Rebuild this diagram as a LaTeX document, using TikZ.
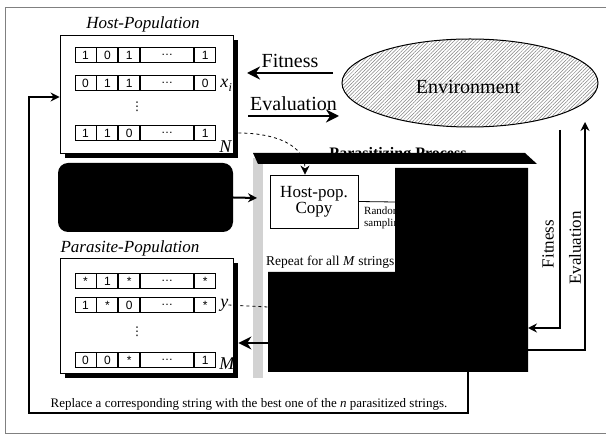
\documentclass[tikz,border=0pt]{standalone}
\usepackage{fontspec}
\setmainfont{Liberation Serif}
\newfontfamily\cellfont{Liberation Sans}
\newfontfamily\symfont{DejaVu Sans}
\usetikzlibrary{positioning,shadows,patterns.meta,arrows.meta,shapes.geometric}

\begin{document}
\begin{tikzpicture}[x=1pt,y=-1pt,>={Stealth[length=9pt,width=9pt]},
  popbox/.style={draw,line width=0.8pt,fill=white,minimum width=173pt,
    drop shadow={shadow xshift=5pt,shadow yshift=-5pt,fill=black,opacity=1}},
  cell/.style={draw,line width=0.9pt,minimum width=21pt,minimum height=15pt,inner sep=0pt,
    font=\cellfont\fontsize{12}{12}\selectfont},
  poptitle/.style={font=\fontsize{17}{17}\selectfont\itshape},
  bigtext/.style={font=\fontsize{20}{22}\selectfont},
  vtext/.style={font=\fontsize{17}{17}\selectfont,rotate=90},
  strlabel/.style={font=\fontsize{18}{18}\selectfont\itshape,inner sep=0pt},
  vdot/.style={font=\symfont\fontsize{12}{12}\selectfont,inner sep=0pt},
  bigarrow/.style={line width=2.5pt,-{Stealth[length=13pt,width=13pt]}},
  flow/.style={line width=2pt}]
\useasboundingbox (0,0) rectangle (608,435);
\draw[gray,line width=0.6pt] (606,7) -- (5,7) -- (5,433) -- (606,433);

% replace path behind everything
\coordinate (r1) at (468,370);
\coordinate (r2) at (29,413);
\node[font=\fontsize{13}{13}\selectfont] (reptext) at (249,404) {Replace a corresponding string with the best one of the \textit{n} parasitized strings.};

% host population
\node[popbox,minimum height=118pt] (host) at (146.5,94) {};
\node[poptitle] (hosttitle) at (143,24) {Host-Population};
\foreach \r/\y/\a/\b/\c/\z in {1/55/1/0/1/1,2/83/0/1/1/0,4/133/1/1/0/1}{
  \node[cell] (h\r-a) at (85.5,\y) {\a};
  \node[cell,right=0pt of h\r-a] (h\r-b) {\b};
  \node[cell,right=0pt of h\r-b] (h\r-c) {\c};
  \node[cell,minimum width=53pt,right=0pt of h\r-c] (h\r-d) {\ldots};
  \node[cell,right=0pt of h\r-d] (h\r-e) {\z};
}
\node[vdot] (hdots) at (137,107) {⋮};
\node[strlabel,anchor=west] (xi) at ([xshift=4pt,yshift=-2pt]h2-e.east) {x\kern.5pt\raisebox{-4pt}{\fontsize{12}{12}\selectfont i}};
\node[strlabel,anchor=west] (nlab) at ([xshift=3pt,yshift=-14pt]h4-e.east) {N};

% parasite population
\node[popbox,minimum height=115pt] (para) at (146.5,315.5) {};
\node[poptitle] (paratitle) at (130,248) {Parasite-Population};
\foreach \r/\y/\a/\b/\c/\z in {1/281/*/1/*/*,2/305/1/*/0/*,4/360/0/0/*/1}{
  \node[cell] (p\r-a) at (85.5,\y) {\a};
  \node[cell,right=0pt of p\r-a] (p\r-b) {\b};
  \node[cell,right=0pt of p\r-b] (p\r-c) {\c};
  \node[cell,minimum width=53pt,right=0pt of p\r-c] (p\r-d) {\ldots};
  \node[cell,right=0pt of p\r-d] (p\r-e) {\z};
}
\node[vdot] (pdots) at (137,332) {⋮};
\node[strlabel,anchor=west] (ylab) at ([xshift=4pt]p2-e.east) {y};
\node[strlabel,anchor=west] (mlab) at ([xshift=3pt,yshift=-4pt]p4-e.east) {M};

% environment
\node[ellipse,draw,line width=1pt,minimum width=256pt,minimum height=88pt,
  pattern={Lines[angle=45,distance=2.5pt,line width=0.5pt]},pattern color=gray] (env) at (470,83) {};
\node[bigtext] (envtext) at (468,87) {Environment};

\coordinate (f1) at (333,73);
\coordinate (f2) at (247,73);
\draw[bigarrow] (f1) -- (f2) node[midway,above=1pt,bigtext] (fit) {Fitness};
\coordinate (e1) at (248,116);
\coordinate (e2) at (339,116);
\draw[bigarrow] (e1) -- (e2) node[midway,above=1pt,bigtext] (eva) {Evaluation};

% parasitizing process
\node[fill=black,rounded corners=10pt,minimum width=175pt,minimum height=69pt] (blob) at (145.5,197.5) {};
\fill[gray!35] (253,158) rectangle (263,378);
\coordinate (stripin) at (257,198);
\draw[line width=2pt,->] (blob.east) -- (stripin);
\node[draw,fill=white,line width=0.8pt,minimum width=88pt,minimum height=53pt,align=center,
  font=\fontsize{17}{16}\selectfont] (copy) at (314,201.5) {Host-pop.\\Copy};
\draw[dashed,thick,->] ([xshift=5pt]host.east |- h4-e.east) .. controls (275,133) and (305,145) .. ([xshift=-9pt]copy.north);
\node[anchor=north west,align=left,inner sep=0pt,font=\fontsize{11}{12}\selectfont] (rand) at (364,207) {Random\\sampling};
\node[anchor=west,inner sep=0pt,font=\fontsize{13.5}{14}\selectfont] (repeat) at (266,262) {Repeat for all \textit{M} strings};
\coordinate (blk) at (395,202);
\draw[thick] (copy.east) -- (blk);
\draw[dashed,thick] (ylab.east) -- (268,307);
\draw[flow,->] (r1) |- (r2) |- ([yshift=-3pt]host.west);
\fill (395,168) -- (528,168) -- (528,372) -- (268,372) -- (268,272) -- (395,272) -- cycle;
\node[font=\fontsize{16}{16}\selectfont\bfseries] (pptitle) at (398,155) {Parasitizing Process};
\fill (253,153) -- (525,153) -- (537,164) -- (258,164) -- cycle;
\coordinate (back) at (268,343);
\draw[bigarrow] (back) -- ([xshift=5pt]para.east |- back);

% right side loop
\coordinate (fitTop) at (560,130);
\coordinate (fitEnd) at (528,328);
\draw[flow,->] (fitTop) |- (fitEnd);
\coordinate (evaStart) at (528,350);
\coordinate (evaTop) at (585,122);
\draw[flow,->] (evaStart) -| (evaTop);
\node[vtext] (vfit) at (548,244) {Fitness};
\node[vtext] (veva) at (575,248) {Evaluation};

\end{tikzpicture}
\end{document}
